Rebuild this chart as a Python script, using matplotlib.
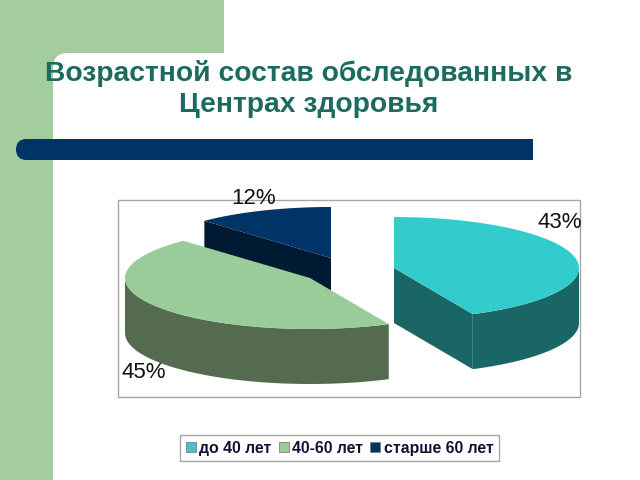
import numpy as np
import matplotlib
matplotlib.use("Agg")
import matplotlib.pyplot as plt
from matplotlib.patches import Patch, Rectangle, FancyBboxPatch

plt.rcParams["font.family"] = ["Liberation Sans", "DejaVu Sans"]

# --------------------------------------------------
# Data
# --------------------------------------------------
categories = ["до 40 лет", "40-60 лет", "старше 60 лет"]
values = [43, 45, 12]
title_lines = "Возрастной состав обследованных в\nЦентрах здоровья"

top_colors = ["#33CCCC", "#99CC99", "#003366"]
side_colors = ["#1A6666", "#556B50", "#001A33"]

# slice centres on the page (pixels), the pie is exploded
centers = [(394, 268), (310, 278), (331, 258)]
label_pos = [(560, 222), (144, 373), (254, 199)]

rx, ry, depth = 185, 51, 55

fig = plt.figure(figsize=(6.4, 4.8), dpi=100)
ax = fig.add_axes([0, 0, 1, 1])
ax.set_xlim(0, 640)
ax.set_ylim(480, 0)
ax.axis("off")

# --------------------------------------------------
# Slide background
# --------------------------------------------------
band = "#A3CD9E"
ax.add_patch(Rectangle((0, 0), 53, 480, color=band, lw=0, zorder=0))
ax.add_patch(Rectangle((0, 0), 224, 53, color=band, lw=0, zorder=0))
ax.add_patch(Rectangle((53, 53), 15, 15, color=band, lw=0, zorder=0))
ax.add_patch(FancyBboxPatch((53, 53), 300, 60, boxstyle="round,pad=0,rounding_size=15",
                            fc="white", ec="none", zorder=0.5))
ax.add_patch(FancyBboxPatch((16, 139), 60, 21, boxstyle="round,pad=0,rounding_size=10.5",
                            fc="#003366", ec="none", zorder=1))
ax.add_patch(Rectangle((40, 139), 493, 21, color="#003366", lw=0, zorder=1))

ax.text(309, 89, title_lines, ha="center", va="center", fontsize=20.3,
        fontweight="bold", color="#1B6B60", linespacing=1.28, zorder=3)

# chart frame
ax.add_patch(Rectangle((118, 200), 462, 197, fc="white", ec="#A6A6A6", lw=1, zorder=1))


# --------------------------------------------------
# 3D pie slices, angles come from the values
# --------------------------------------------------
def ellipse_pts(c, a0, a1, dz=0):
    t = np.radians(np.linspace(a0, a1, 80))
    return c[0] + rx * np.cos(t), c[1] - ry * np.sin(t) + dz


angles = 90 - np.cumsum([0] + values) * 3.6
# the cut face each slice shows to the viewer
face_angle = {0: angles[1], 2: angles[2]}
order = [2, 1, 0]  # back slice first
for z, i in enumerate(order):
    c = centers[i]
    a0, a1 = angles[i], angles[i + 1]
    zo = 2 + z * 0.1

    if i in face_angle:
        t = np.radians(face_angle[i])
        px, py = c[0] + rx * np.cos(t), c[1] - ry * np.sin(t)
        ax.fill([c[0], px, px, c[0]], [c[1], py, py + depth, c[1] + depth],
                color=side_colors[i], lw=0, zorder=zo)

    # outer wall, front half of the ellipse only
    lo, hi = max(a1, -180), min(a0, 0)
    if lo < hi:
        x, y = ellipse_pts(c, lo, hi)
        ax.fill(np.r_[x, x[::-1]], np.r_[y, y[::-1] + depth],
                color=side_colors[i], lw=0, zorder=zo)

    # top surface
    x, y = ellipse_pts(c, a0, a1)
    ax.fill(np.r_[c[0], x], np.r_[c[1], y], color=top_colors[i], lw=0, zorder=zo + 0.01)

for v, (lx, ly) in zip(values, label_pos):
    ax.text(lx, ly, f"{v}%", ha="center", va="center", fontsize=16, color="#111111", zorder=4)

# --------------------------------------------------
# Legend
# --------------------------------------------------
handles = [Patch(fc=col, ec="#808080", lw=0.6) for col in top_colors]
leg = ax.legend(handles, categories, ncol=3, loc="center", bbox_to_anchor=(339.5 / 640, 1 - 448 / 480),
                frameon=True, fancybox=False, edgecolor="#A6A6A6", framealpha=1,
                prop={"size": 11.4, "weight": "bold"}, labelcolor="#111133",
                handlelength=0.65, handleheight=0.65, handletextpad=0.2, columnspacing=0.45,
                borderpad=0.35, borderaxespad=0)
leg.get_frame().set_linewidth(1)
# no descender in this label, it sits a bit high otherwise
leg.get_texts()[1].set_y(-0.5)

plt.savefig("out.png", dpi=100)
